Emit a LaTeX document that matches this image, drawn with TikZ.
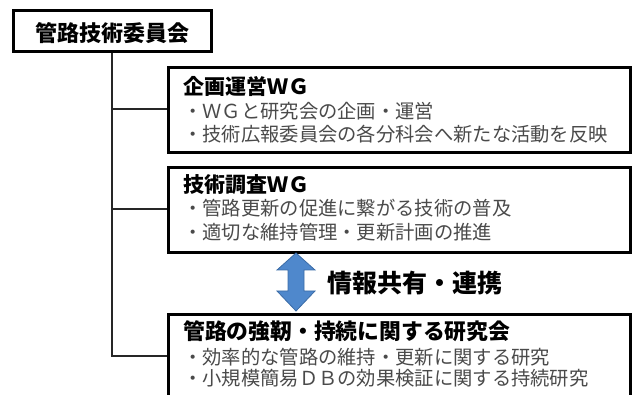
\documentclass[tikz,border=0pt]{standalone}
\usepackage{fontspec}
\newfontfamily\jp{Noto Sans CJK JP}
\usetikzlibrary{calc}
\definecolor{bodygray}{HTML}{4A4A4A}
\definecolor{arrowblue}{HTML}{4F88CC}
\definecolor{arrowedge}{HTML}{3A6BA6}
\begin{document}
\begin{tikzpicture}[x=1pt,y=-1pt,
  box/.style={draw=black, line width=2.6pt, fill=white, anchor=north west, inner sep=0pt},
  conn/.style={draw=black!85, line width=1.8pt},
  ttl/.style={anchor=west, inner sep=0pt, font=\jp\bfseries\fontsize{21}{21}\selectfont, text=black},
  bul/.style={anchor=west, inner sep=0pt, font=\jp\fontsize{19.3}{19.3}\selectfont, text=bodygray},
  mid/.style={anchor=west, inner sep=0pt, font=\jp\bfseries\fontsize{25}{25}\selectfont, text=black}]
\useasboundingbox (0,0) rectangle (632,395);
\clip (0,0) rectangle (632,395);
% connectors (drawn first, under boxes)
\coordinate (vtop) at (112,50);
\coordinate (j1) at (112,109);
\coordinate (j2) at (112,209);
\coordinate (j3) at (112,356);
% boxes
\node[box, minimum width=198pt, minimum height=41pt] (top) at (12,9) {};
\node[box, minimum width=462pt, minimum height=85pt] (b1) at (167,66) {};
\node[box, minimum width=462pt, minimum height=85pt] (b2) at (167,166) {};
\node[box, minimum width=462pt, minimum height=110pt] (b3) at (167,313) {};
\draw[conn] (top.south -| vtop) -- (j3) -- (j3 -| b3.west);
\draw[conn] (j1) -- (j1 -| b1.west);
\draw[conn] (j2) -- (j2 -| b2.west);
% texts
\node[font=\jp\bfseries\fontsize{22}{22}\selectfont, inner sep=0pt] (tt) at ($(top.center)+(0,2)$) {管路技術委員会};
\node[ttl] (t1) at ($(b1.north west)+(16,20)$) {企画運営ＷＧ};
\node[bul] (t1a) at ($(b1.north west)+(16,45)$) {・ＷＧと研究会の企画・運営};
\node[bul] (t1b) at ($(b1.north west)+(16,68)$) {・技術広報委員会の各分科会へ新たな活動を反映};
\node[ttl] (t2) at ($(b2.north west)+(16,19)$) {技術調査ＷＧ};
\node[bul] (t2a) at ($(b2.north west)+(16,42)$) {・管路更新の促進に繋がる技術の普及};
\node[bul] (t2b) at ($(b2.north west)+(16,66)$) {・適切な維持管理・更新計画の推進};
\node[ttl, font=\jp\bfseries\fontsize{21.8}{21.8}\selectfont] (t3) at ($(b3.north west)+(16,18)$) {管路の強靭・持続に関する研究会};
\node[bul] (t3a) at ($(b3.north west)+(16,44)$) {・効率的な管路の維持・更新に関する研究};
\node[bul] (t3b) at ($(b3.north west)+(16,65)$) {・小規模簡易ＤＢの効果検証に関する持続研究};
% double arrow
\coordinate (ac) at (296,282);
\filldraw[fill=arrowblue, draw=arrowedge, line width=0.8pt, line join=miter]
  ($(ac)+(0,-29)$) -- ($(ac)+(19,-12)$) -- ($(ac)+(8,-12)$) -- ($(ac)+(8,9)$) -- ($(ac)+(19,9)$)
  -- ($(ac)+(0,29)$) -- ($(ac)+(-19,9)$) -- ($(ac)+(-8,9)$) -- ($(ac)+(-8,-12)$) -- ($(ac)+(-19,-12)$) -- cycle;
\node[mid] (info) at (327,283) {情報共有・連携};
\end{tikzpicture}
\end{document}
